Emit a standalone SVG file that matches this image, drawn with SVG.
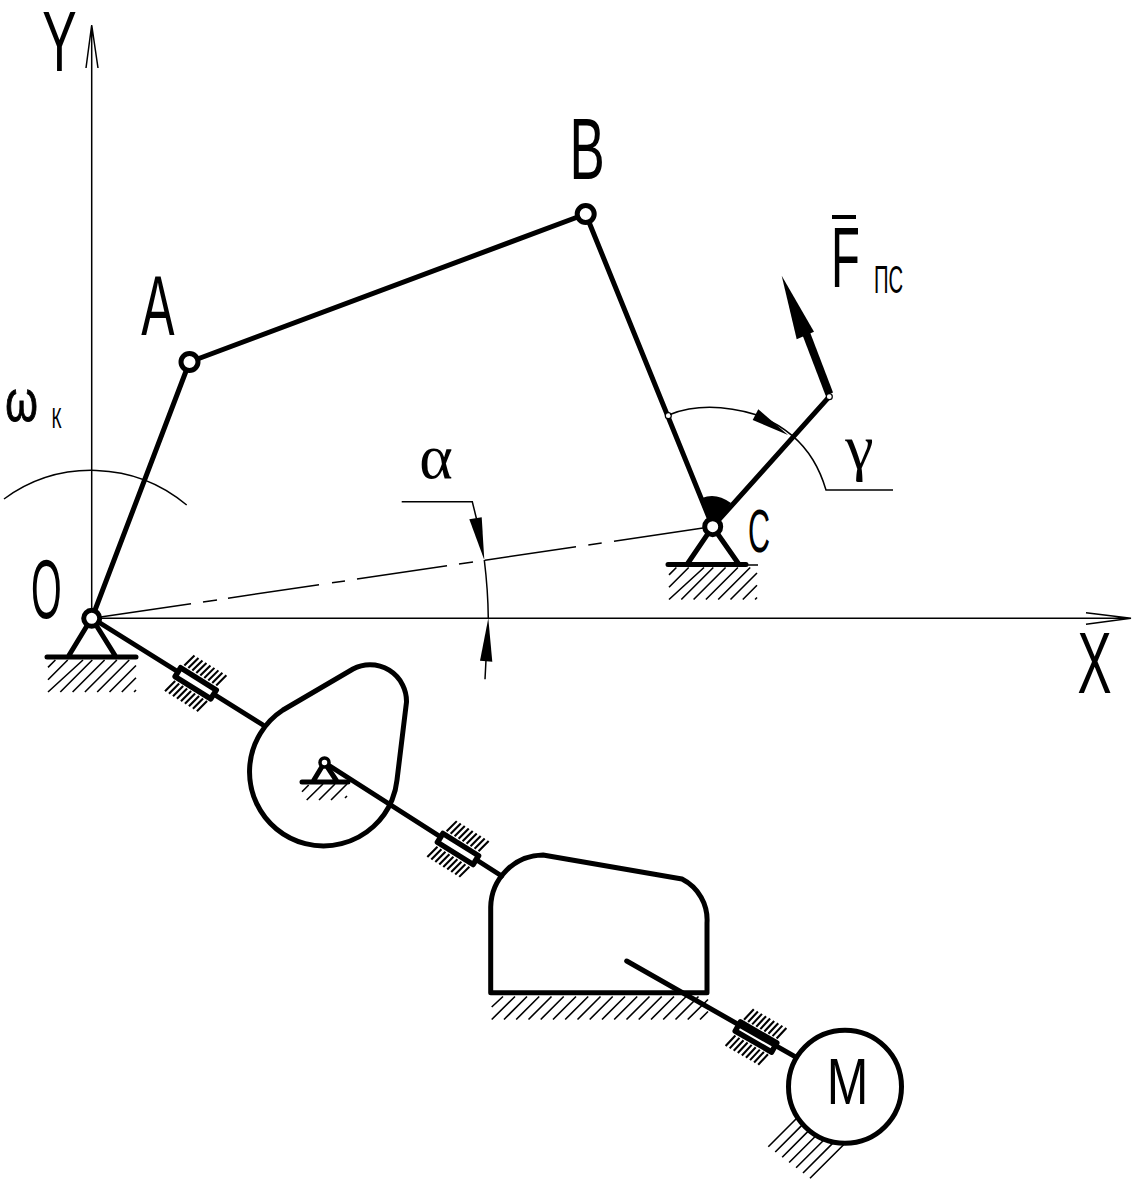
<svg xmlns="http://www.w3.org/2000/svg" width="1135" height="1183" viewBox="0 0 1135 1183">
<style>
text{font-family:"Liberation Sans",Arial,sans-serif;fill:#000}
.serif{font-family:"Liberation Serif","Times New Roman",serif}
.thick{fill:none;stroke:#000;stroke-width:5;stroke-linecap:round;stroke-linejoin:round}
.thin{fill:none;stroke:#000;stroke-width:1.5}
.hatch{fill:none;stroke:#000;stroke-width:1.6}
.joint{fill:#fff;stroke:#000;stroke-width:5}
.solid{fill:#000;stroke:none}
</style>
<defs>
<path id="ground" class="hatch" d="M1,35L36,3M13.3,35L45.3,3M25.6,35L57.6,3M37.9,35L69.9,3M50.2,35L82.2,3M62.5,35L89,8.5M74.8,35L89,20.7M87.1,35L89,33M1,22.7L20.7,3M1,10.4L8.4,3"/>
<g id="bearing">
<path fill="none" stroke="#000" stroke-width="2.100" d="M-19,-9L-15.800,-23M-14.300,-9L-11.100,-23M-9.600,-9L-6.400,-23M-4.900,-9L-1.700,-23M-.2,-9L3,-23M4.500,-9L7.700,-23M9.200,-9L12.400,-23M13.900,-9L17.100,-23M18.600,-9L21.800,-23M19,9L15.800,23M14.300,9L11.100,23M9.600,9L6.400,23M4.900,9L1.700,23M.2,9L-3,23M-4.500,9L-7.700,23M-9.200,9L-12.400,23M-13.900,9L-17.100,23M-18.600,9L-21.800,23"/>
<rect x="-21" y="-5.200" width="42" height="10.400" fill="#fff" stroke="#000" stroke-width="5.500" stroke-linejoin="round"/>
</g>
</defs>

<g id="axes">
<path class="thin" d="M91.700,618V25M86,68L91.700,25L98,68"/>
<path class="thin" d="M92,618.300H1131M1086,612.700L1131,618.300L1086,624.300"/>
<path class="thin" d="M92,618.300L191,603.700M203,602L217,599.900M228,598.200L319,584.700M332,582.800L345,580.900M357,579.100L447,565.800M459,564L473,561.900M485,560.200L576,546.800M588.300,545L601.700,543M614,541.200L703,528"/>
</g>

<g id="connectors">
<path class="thick" d="M92,618L263,725"/>
<path class="thick" d="M325,763L501.700,876"/>
<path class="thick" d="M92,618L189.500,362"/>
<path class="thick" d="M189.500,362L585.700,214"/>
<path class="thick" d="M585.700,214L712.700,526.700"/>
<path class="thick" d="M712.700,526.700L829.300,396.700"/>
</g>

<g id="support-o">
<path class="thick" d="M91.700,618L68,657M91.700,618L116,657M47,657H136"/>
<use href="#ground" x="47" y="657"/>
<circle class="joint" cx="91.700" cy="618.300" r="8"/>
</g>

<g id="joint-a"><circle class="joint" cx="189.500" cy="362" r="8.500"/></g>
<g id="joint-b"><circle class="joint" cx="585.700" cy="214" r="8.500"/></g>

<g id="support-c">
<path class="solid" d="M712.700,526.700L702,498Q716,492 731,503Z"/>
<path class="thick" d="M712.700,526.700L688,563M712.700,526.700L738,563M668,564.500H746"/>
<path class="thin" d="M746,565H758"/>
<use href="#ground" x="668" y="564.500"/>
<circle class="joint" cx="712.700" cy="526.700" r="8"/>
</g>

<g id="force">
<path fill="none" stroke="#000" stroke-width="8" d="M829.300,394L806,333"/>
<path class="solid" d="M781.700,275.700L814,331.700L796.700,339.300Z"/>
<circle cx="829.300" cy="396.700" r="3" fill="#fff" stroke="#000" stroke-width="1.200"/>
<circle cx="668.300" cy="415.700" r="3" fill="#fff" stroke="#000" stroke-width="1.200"/>
</g>

<g id="gamma">
<path class="thin" d="M670,414.500Q707,400 757,415Q795,430 813,460Q821,473 826,490H893"/>
<path class="solid" d="M788,435L758.300,409.300L752.700,420Z"/>
</g>

<g id="alpha">
<path class="thin" d="M401.700,501.700H472.300L478,525M484.300,560Q488,590 488.300,618.300M486,660L485,679.300"/>
<path class="solid" d="M484.300,560L469.300,519.300L481.700,517.300Z"/>
<path class="solid" d="M488.300,618.300L480,660.700L492.300,661.700Z"/>
</g>

<g id="omega-arc"><path class="thin" d="M4,499A148,148 0 0 1 186.700,505"/></g>

<g id="bearing-1"><use href="#bearing" transform="translate(195.700,683.300) rotate(32)"/></g>
<g id="bearing-2"><use href="#bearing" transform="translate(458,849) rotate(32)"/></g>
<g id="bearing-3"><use href="#bearing" transform="translate(756,1037) rotate(30)"/></g>

<g id="cam">
<path class="thick" d="M283,710A74,74 0 1 0 392,800Q396,790 397,780L406.500,702A36.500,36.500 0 0 0 353,669Z"/>
<path class="thick" stroke-width="3.500" d="M324.500,762.500L313.300,781M324.500,762.500L336.700,781M302,782H348"/>
<path class="hatch" d="M306.700,800L323,784M319,800L335,784M331,800L347,784M345,798L347,796M302,791.700L308.700,785"/>
<circle cx="324.500" cy="762.500" r="4.500" fill="#fff" stroke="#000" stroke-width="3.500"/>
</g>

<g id="block">
<path class="thick" d="M490.700,992.700V907A53,53 0 0 1 543,855L682,879A46,46 0 0 1 707,923V992.700Z"/>
<path class="hatch" d="M491.700,1019.500L515,996.500M504,1019.500L527,996.500M516.200,1019.500L539.200,996.500M528.500,1019.500L551.500,996.500M540.700,1019.500L563.700,996.500M553,1019.500L576,996.500M565.200,1019.500L588.200,996.500M577.500,1019.500L600.500,996.500M589.700,1019.500L612.700,996.500M602,1019.500L625,996.500M614.200,1019.500L637.200,996.500M626.500,1019.500L649.500,996.500M638.700,1019.500L661.700,996.500M651,1019.500L674,996.500M663.200,1019.500L686.200,996.500M675.500,1019.500L698.500,996.500M687.700,1019.500L708,999.500M700,1019.500L708,1011.500M491.700,1007L503,996.500"/>
<path class="thick" d="M626.700,961L795,1056.700"/>
</g>

<g id="motor">
<path class="hatch" d="M768.300,1146.700L796.500,1118.500M775.250,1152L801.800,1125.400M782.200,1157.200L808,1131.400M789.150,1162.500L815.200,1136.500M796.100,1167.800L823.400,1140.500M803,1173L832.600,1143.400M810,1178.300L843.600,1144.700"/>
<circle cx="845" cy="1086.700" r="56.500" fill="#fff" stroke="#000" stroke-width="5"/>
<text transform="translate(847.500,1104) scale(.78,1)" font-size="64" text-anchor="middle">M</text>
</g>

<g id="labels">
<text transform="translate(59.500,71) scale(.6,1)" font-size="86" text-anchor="middle">Y</text>
<text transform="translate(158,335) scale(.58,1)" font-size="86" text-anchor="middle">A</text>
<text transform="translate(587,179) scale(.6,1)" font-size="88" text-anchor="middle">B</text>
<text transform="translate(46.300,617.500) scale(.47,1)" font-size="84" text-anchor="middle">O</text>
<text transform="translate(759,552) scale(.5,1)" font-size="61" text-anchor="middle">C</text>
<text transform="translate(1094.500,693) scale(.58,1)" font-size="88" text-anchor="middle">X</text>
<text transform="translate(845.500,287) scale(.55,1)" font-size="86" text-anchor="middle">F</text>
<path fill="none" stroke="#000" stroke-width="4" d="M832,217H856"/>
<text transform="translate(888.500,293) scale(.52,1)" font-size="39" text-anchor="middle">ПС</text>
<text transform="translate(21.500,421) scale(.72,1)" font-size="58" text-anchor="middle" stroke="#000" stroke-width="1">ω</text>
<text transform="translate(56.500,427.600) scale(.6,1)" font-size="29" text-anchor="middle">К</text>
<text class="serif" x="436" y="478" font-size="64" text-anchor="middle">α</text>
<text class="serif" x="859.500" y="468" font-size="64" text-anchor="middle">γ</text>
</g>
</svg>
